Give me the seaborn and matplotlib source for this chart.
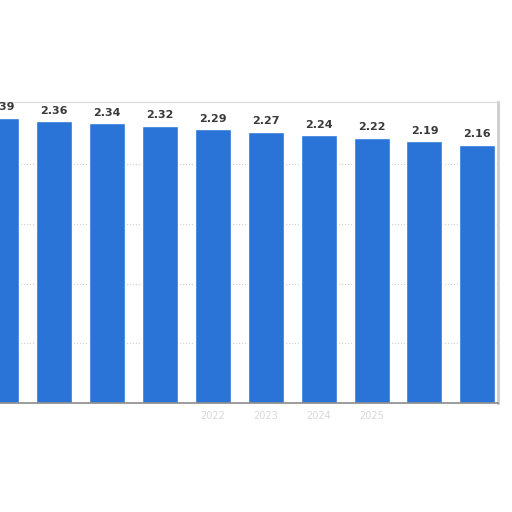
import matplotlib
matplotlib.use("Agg")
import matplotlib.pyplot as plt
import seaborn as sns
import pandas as pd

# values (first bar is cut by the left edge)
years = ['2018', '2019', '2020', '2021', '2022', '2023', '2024', '2025', '2026', '2027']
values = [2.39, 2.36, 2.34, 2.32, 2.29, 2.27, 2.24, 2.22, 2.19, 2.16]
# only a few year labels are readable in the reference
tick_labels = ['', '', '', '', '2022', '2023', '2024', '2025', '', '']

df = pd.DataFrame({'year': years, 'value': values})

sns.set_style('white')
plt.rcParams['font.family'] = ['DejaVu Sans']

fig = plt.figure(figsize=(5.12, 5.12), dpi=100)
ax = fig.add_axes([0.0, 0.2129, 0.9727, 0.5879])

sns.barplot(data=df, x='year', y='value', order=years, color='#2a74d8',
            width=0.68, saturation=1, ax=ax)

for i, v in enumerate(values):
    ax.annotate(f'{v:.2f}', (i, v), xytext=(0, 4), textcoords='offset points',
                ha='center', va='bottom', fontsize=8, fontweight='bold',
                color='#3a3a3a', annotation_clip=False)

ax.set_xlim(-0.021, 9.39)
ax.set_ylim(0, 2.52)
ax.set_yticks([0.5, 1.0, 1.5, 2.0])
ax.set_yticklabels([])
ax.tick_params(axis='y', length=0)
ax.yaxis.grid(True, linestyle=':', color='#cfcfcf', linewidth=0.8)
ax.set_axisbelow(True)

ax.set_xticks(range(len(years)))
ax.set_xticklabels(tick_labels, fontsize=7, color='#d8d8d8')
ax.tick_params(axis='x', length=0, pad=6)
ax.set_xlabel('')
ax.set_ylabel('')

for side in ['left']:
    ax.spines[side].set_visible(False)
ax.spines['top'].set_color('#d9d9d9')
ax.spines['right'].set_color('#cccccc')
ax.spines['right'].set_linewidth(2)
ax.spines['bottom'].set_color('#8a8a8a')
ax.spines['bottom'].set_linewidth(1.2)

fig.savefig('out.png', dpi=100)
